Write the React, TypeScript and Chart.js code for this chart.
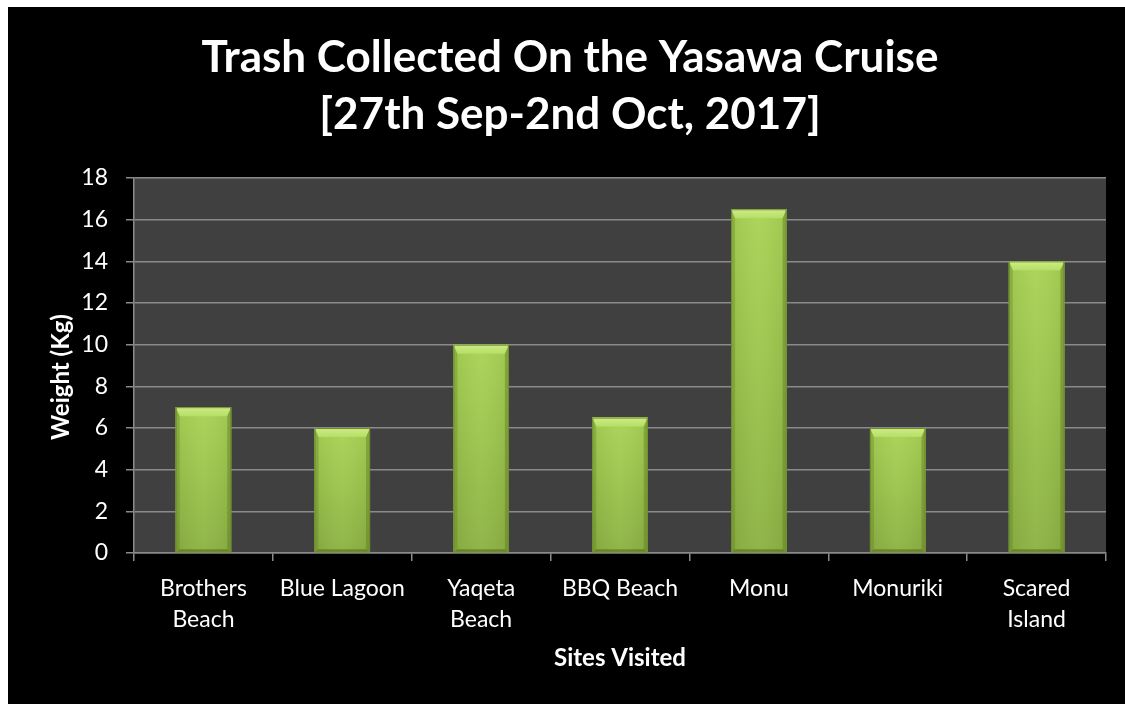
import React, { useEffect, useRef } from "react";
import { Chart, registerables } from "chart.js";

Chart.register(...registerables);

const categories: string[][] = [
  ["Brothers", "Beach"],
  ["Blue Lagoon"],
  ["Yaqeta", "Beach"],
  ["BBQ Beach"],
  ["Monu"],
  ["Monuriki"],
  ["Scared", "Island"],
];
const weights: number[] = [7, 6, 10, 6.5, 16.5, 6, 14];
const titleLines: string[] = ["Trash Collected On the Yasawa Cruise", "[27th Sep-2nd Oct, 2017]"];
const yTitle = "Weight (Kg)";
const xTitle = "Sites Visited";

const FONT = "Lato, 'Open Sans', sans-serif";
const GRID = "#8a8a8a";

const plotBg = {
  id: "plotBg",
  beforeDraw(chart: any) {
    const { ctx, chartArea } = chart;
    ctx.save();
    ctx.fillStyle = "#404040";
    ctx.fillRect(chartArea.left, chartArea.top, chartArea.right - chartArea.left, chartArea.bottom - chartArea.top);
    ctx.restore();
  },
};

const yTitlePlugin = {
  id: "yTitlePlugin",
  afterDraw(chart: any) {
    const { ctx } = chart;
    ctx.save();
    ctx.translate(53, 370);
    ctx.rotate(-Math.PI / 2);
    ctx.fillStyle = "#ffffff";
    ctx.font = `bold 24px ${FONT}`;
    ctx.textAlign = "center";
    ctx.textBaseline = "middle";
    ctx.fillText(yTitle, 0, 0);
    ctx.restore();
  },
};

function poly(ctx: CanvasRenderingContext2D, pts: number[], fill: any) {
  ctx.beginPath();
  ctx.moveTo(pts[0], pts[1]);
  for (let i = 2; i < pts.length; i += 2) ctx.lineTo(pts[i], pts[i + 1]);
  ctx.closePath();
  ctx.fillStyle = fill;
  ctx.fill();
}

const bevelPlugin = {
  id: "bevel",
  afterDatasetsDraw(chart: any) {
    const { ctx } = chart;
    const meta = chart.getDatasetMeta(0);
    meta.data.forEach((bar: any) => {
      const { x, y, base, width } = bar.getProps(["x", "y", "base", "width"], true);
      const l = x - width / 2;
      const r = x + width / 2;
      const t = Math.min(y, base);
      const b = Math.max(y, base);
      const d = 9;
      const s = 4;
      const bb = 3;
      ctx.save();
      const g = ctx.createLinearGradient(0, t, 0, b);
      g.addColorStop(0, "#a9d455");
      g.addColorStop(1, "#8db243");
      poly(ctx, [l, t, r, t, r, b, l, b], g);
      const gh = ctx.createLinearGradient(l, 0, r, 0);
      gh.addColorStop(0, "rgba(0,0,0,0.06)");
      gh.addColorStop(0.5, "rgba(255,255,255,0.04)");
      gh.addColorStop(1, "rgba(0,0,0,0.06)");
      poly(ctx, [l, t, r, t, r, b, l, b], gh);
      const gt = ctx.createLinearGradient(0, t, 0, t + d);
      gt.addColorStop(0, "#cdec86");
      gt.addColorStop(1, "#b6de66");
      poly(ctx, [l, t, r, t, r - s, t + d, l + s, t + d], gt);
      poly(ctx, [l, t, l + s, t + d, l + s, b - bb, l, b], "rgba(90,120,30,0.30)");
      poly(ctx, [r, t, r - s, t + d, r - s, b - bb, r, b], "rgba(90,120,30,0.42)");
      poly(ctx, [l, b, l + s, b - bb, r - s, b - bb, r, b], "rgba(70,95,20,0.5)");
      ctx.strokeStyle = "#6f8d2e";
      ctx.lineWidth = 1;
      ctx.strokeRect(l + 0.5, t + 0.5, width - 1, b - t - 1);
      ctx.restore();
    });
  },
};

export default function App() {
  const ref = useRef<HTMLCanvasElement | null>(null);
  useEffect(() => {
    const html = document.documentElement;
    const prevBg = html.style.background;
    html.style.background = "#000000";
    html.style.overflow = "hidden";
    if (!ref.current) return;
    const chart = new Chart(ref.current, {
      type: "bar",
      data: {
        labels: categories,
        datasets: [
          {
            data: weights,
            backgroundColor: "#9cc74b",
            borderWidth: 0,
            barPercentage: 0.4,
            categoryPercentage: 1,
          },
        ],
      },
      options: {
        responsive: false,
        animation: false,
        devicePixelRatio: 1,
        layout: { padding: { left: 26, right: 19, top: 0, bottom: 0 } },
        plugins: {
          legend: { display: false },
          tooltip: { enabled: false },
          title: {
            display: true,
            text: titleLines,
            color: "#ffffff",
            font: { family: FONT, size: 44, weight: "bold", lineHeight: 57 / 44 },
            padding: { top: 22.5, bottom: 34.5 },
          },
        },
        scales: {
          x: {
            afterFit: (s: any) => {
              s.height = 151;
            },
            grid: {
              display: true,
              drawOnChartArea: false,
              drawTicks: true,
              tickLength: 8,
              color: GRID,
              lineWidth: 1.5,
              offset: true,
            },
            border: { display: true, color: GRID, width: 1.5 },
            ticks: {
              color: "#ffffff",
              font: { family: FONT, size: 23, lineHeight: 31 / 23 },
              padding: 12,
              maxRotation: 0,
              autoSkip: false,
            },
            title: {
              display: true,
              text: xTitle,
              color: "#ffffff",
              font: { family: FONT, size: 24, weight: "bold", lineHeight: 1.2 },
              padding: { top: 0, bottom: 31 },
            },
          },
          y: {
            min: 0,
            max: 18,
            afterFit: (s: any) => {
              s.width = 100;
            },
            grid: {
              color: GRID,
              lineWidth: 1.5,
              tickLength: 8,
              drawTicks: true,
            },
            border: { display: true, color: GRID, width: 1.5 },
            ticks: {
              stepSize: 2,
              color: "#ffffff",
              font: { family: FONT, size: 23 },
              padding: 18,
            },
          },
        },
      },
      plugins: [plotBg, bevelPlugin, yTitlePlugin],
    });
    return () => {
      chart.destroy();
      html.style.background = prevBg;
    };
  }, []);
  return (
    <>
      <div style={{ position: "fixed", left: 0, top: 0, width: 3000, height: 7, background: "#ffffff" }} />
      <div style={{ position: "fixed", left: 0, top: 0, width: 8, height: 3000, background: "#ffffff" }} />
      <div
        style={{
          position: "fixed",
          left: 8,
          top: 7,
          width: 1140,
          height: 720,
          background: "#000000",
        }}
      >
        <canvas ref={ref} width={1117} height={697} style={{ display: "block" }} />
      </div>
    </>
  );
}
